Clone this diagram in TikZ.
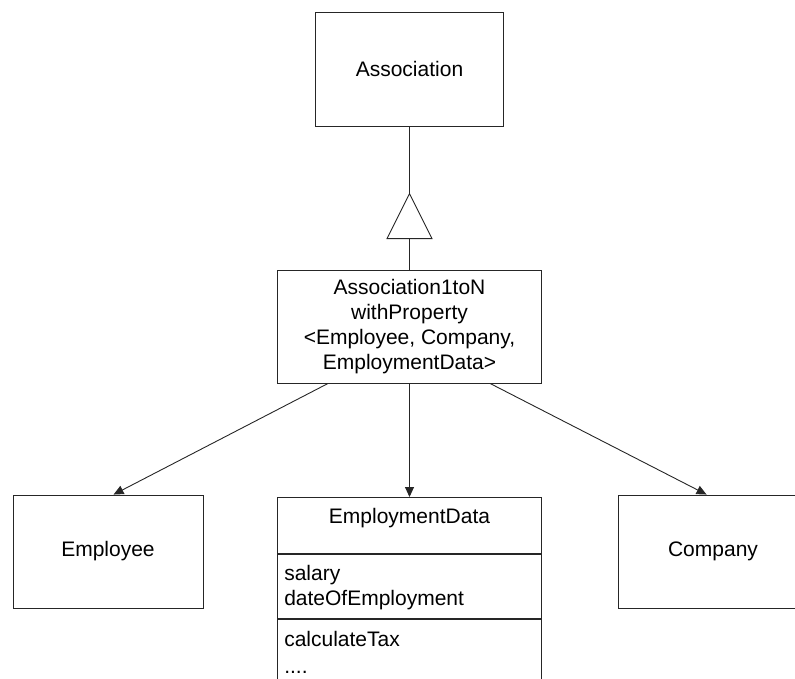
\documentclass[tikz,border=0pt]{standalone}
\usepackage{fontspec}
\setmainfont{Liberation Sans}
\usetikzlibrary{arrows.meta,calc}
\begin{document}
\begin{tikzpicture}[x=1pt,y=-1pt,
  box/.style={draw=black!85,line width=0.9pt,rectangle,inner sep=0pt,align=center,
    font=\fontsize{21}{25}\selectfont},
  txt/.style={inner sep=0pt,font=\fontsize{21}{25}\selectfont,anchor=base west},
  link/.style={draw=black!85,line width=0.9pt},
  arr/.style={link,-{Triangle[length=10pt,width=9pt]}}]
\useasboundingbox (0,0) rectangle (795,679);

% classes
\node[box,minimum width=188pt,minimum height=114pt] (assoc) at (409.5,69) {Association};
\node[box,minimum width=264pt,minimum height=113pt] (a1n) at (409.5,326.5)
  {Association1toN\\withProperty\\<Employee, Company,\\EmploymentData>};
\node[box,minimum width=190pt,minimum height=113pt] (emp) at (108,551.5) {Employee};
\node[box,minimum width=190pt,minimum height=113pt] (comp) at (713,551.5) {Company};

% EmploymentData with its three compartments
\node[box,minimum width=264pt,minimum height=56pt,anchor=north] (ed) at (409.5,497) {};
\node[txt,anchor=base] (edname) at ($(ed.north)+(0,26)$) {EmploymentData};
\node[box,minimum width=264pt,minimum height=64pt,anchor=north] (edattr) at (ed.south) {};
\node[txt] (attr1) at ($(edattr.north west)+(7,27)$) {salary};
\node[txt] (attr2) at ($(edattr.north west)+(7,52)$) {dateOfEmployment};
\node[box,minimum width=264pt,minimum height=90pt,anchor=north] (edops) at (edattr.south) {};
\node[txt] (op1) at ($(edops.north west)+(7,28)$) {calculateTax};
\node[txt] (op2) at ($(edops.north west)+(7,55)$) {....};

% generalization
\draw[link] (a1n.north) -- ++(0,-31) coordinate (gbase);
\draw[link,fill=white] ($(gbase)+(-22.5,0)$) -- ($(gbase)+(22.5,0)$)
  -- ($(gbase)+(0,-45)$) coordinate (gapex) -- cycle;
\draw[link] (gapex) -- (assoc.south);

% navigable associations
\draw[arr] ($(a1n.south west)+(51,0)$) -- ($(emp.north west)+(101,0)$);
\draw[arr] (a1n.south) -- (ed.north);
\draw[arr] ($(a1n.south west)+(213,0)$) -- ($(comp.north west)+(89,0)$);
\end{tikzpicture}
\end{document}
